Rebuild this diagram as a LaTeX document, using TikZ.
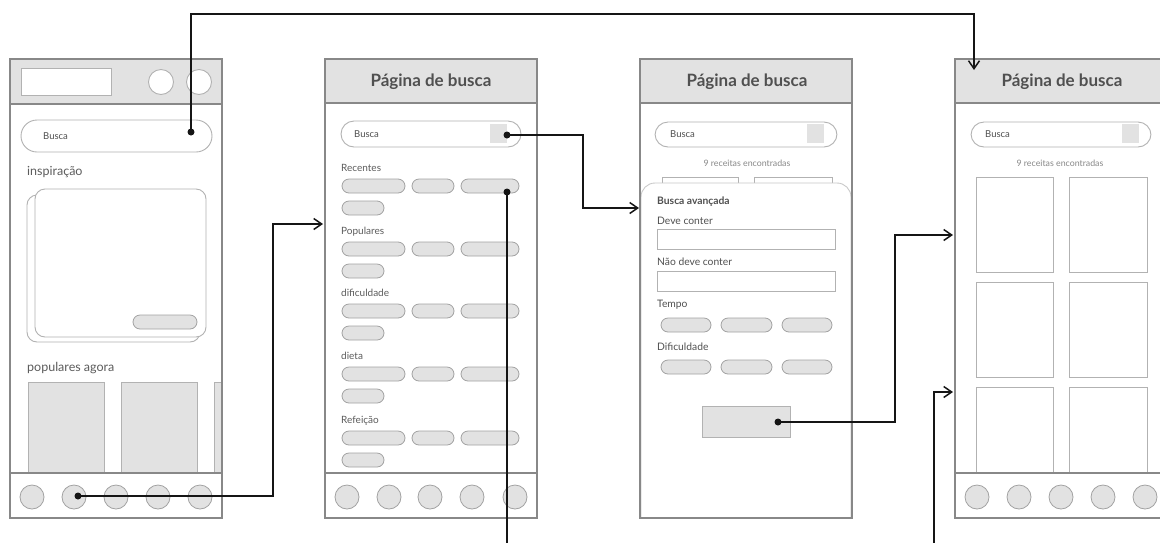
\documentclass[tikz,border=0pt]{standalone}
\usepackage{fontspec}
\setmainfont{Lato}
\usetikzlibrary{arrows.meta}

\definecolor{hdr}{HTML}{E2E2E2}
\definecolor{frame}{HTML}{888888}
\definecolor{soft}{HTML}{B2B2B2}
\definecolor{pilledge}{HTML}{A2A2A2}
\definecolor{ink}{HTML}{505050}
\definecolor{label}{HTML}{5C5C5C}
\definecolor{faint}{HTML}{888888}
\definecolor{wire}{HTML}{151515}

\tikzset{
  screen/.style={draw=frame, line width=1.3pt},
  headbar/.style={fill=hdr, draw=frame, line width=1.1pt},
  outline/.style={draw=soft, line width=0.9pt},
  pill/.style={fill=hdr, draw=pilledge, line width=0.8pt, rounded corners=7pt},
  disc/.style={circle, fill=hdr, draw=pilledge, line width=0.8pt, minimum size=24pt, inner sep=0pt},
  wire/.style={draw=wire, line width=1.7pt},
  arrowwire/.style={wire, -{Straight Barb[length=8pt,width=11pt,line width=1.5pt]}},
  dot/.style={circle, fill=wire, minimum size=7pt, inner sep=0pt},
  title/.style={font=\fontsize{17}{19}\selectfont\bfseries, text=ink, inner sep=0pt},
  lbl/.style={font=\fontsize{10}{12}\selectfont, text=label, anchor=mid west, inner sep=0pt},
  biglbl/.style={font=\fontsize{12.5}{14}\selectfont, text=label, anchor=mid west, inner sep=0pt},
  fieldtxt/.style={font=\fontsize{9.5}{11}\selectfont, text=ink, anchor=mid west, inner sep=0pt},
  counttxt/.style={font=\fontsize{8.8}{10}\selectfont, text=faint, inner sep=0pt},
  formlbl/.style={font=\fontsize{10.3}{12}\selectfont, text=ink, anchor=mid west, inner sep=0pt},
}

\begin{document}
\begin{tikzpicture}[x=1pt, y=-1pt]
\clip (0,0) rectangle (1160,542);
\fill[white] (0,0) rectangle (1160,542);

% ---------------- home screen ----------------
\draw[headbar] (10,59) rectangle (222,104);
\draw[outline, fill=white] (21,68) rectangle (111,95);
\draw[outline, fill=white] (161,82) circle (12.5);
\draw[outline, fill=white] (199,82) circle (12.5);
\draw[outline, fill=white, rounded corners=16pt] (21,120) rectangle (212,152);
\node[fieldtxt] (h-busca) at (43,137) {Busca};
\node[biglbl] (h-insp) at (27,173) {inspiração};
\draw[outline, fill=white, rounded corners=10pt] (27,195) rectangle (200,342);
\draw[outline, fill=white, rounded corners=10pt] (35,189) rectangle (206,337);
\draw[pill] (133,315) rectangle (197,329);
\node[biglbl] (h-pop) at (27,369) {populares agora};
\draw[outline, fill=hdr] (28,382) rectangle (104,473);
\draw[outline, fill=hdr] (121,382) rectangle (197,473);
\draw[outline, fill=hdr] (214,382) rectangle (221,473);
\draw[screen, fill=white] (10,473) rectangle (222,518);
\foreach \i/\x in {1/32,2/74,3/116,4/158,5/200}
  \node[disc] (h-nav\i) at (\x,497) {};
\draw[screen] (10,59) rectangle (222,518);

% ---------------- search screen ----------------
\draw[headbar] (325,59) rectangle (537,103);
\node[title] (s-title) at (431,82) {Página de busca};
\draw[outline, fill=white, rounded corners=13pt] (341,121) rectangle (521,147);
\node[fieldtxt] (s-busca) at (354,135) {Busca};
\fill[hdr] (490,124) rectangle (507,143);
\foreach \n/\t/\y in {rec/Recentes/169, pop/Populares/232, dif/dificuldade/294, die/dieta/357, ref/Refeição/421}{
  \node[lbl] (s-\n) at (341,\y) {\t};
  \draw[pill] (342,\y+10) rectangle (405,\y+24);
  \draw[pill] (412,\y+10) rectangle (454,\y+24);
  \draw[pill] (461,\y+10) rectangle (519,\y+24);
  \draw[pill] (342,\y+32) rectangle (384,\y+46);
}
\draw[screen, fill=white] (325,473) rectangle (537,518);
\foreach \i/\x in {1/347,2/389,3/430,4/472,5/515}
  \node[disc] (s-nav\i) at (\x,497) {};
\draw[screen] (325,59) rectangle (537,518);

% ---------------- advanced search screen ----------------
\draw[headbar] (640,59) rectangle (852,103);
\node[title] (a-title) at (747,82) {Página de busca};
\draw[outline, fill=white, rounded corners=13pt] (655,122) rectangle (837,147);
\node[fieldtxt] (a-busca) at (670,135) {Busca};
\fill[hdr] (807,124) rectangle (824,143);
\node[counttxt] (a-count) at (747,163) {9 receitas encontradas};
\draw[outline] (662,177) rectangle (738,200);
\draw[outline] (754,177) rectangle (832,200);
\draw[draw=soft!70, line width=0.9pt, fill=white, rounded corners=14pt]
  (641,518) -- (641,183) -- (851,183) -- (851,518);
\node[formlbl, font=\fontsize{10.3}{12}\selectfont\bfseries] (a-adv) at (657,202) {Busca avançada};
\node[formlbl] (a-deve) at (657,222) {Deve conter};
\draw[outline] (657,229) rectangle (835,249);
\node[formlbl] (a-nao) at (657,263) {Não deve conter};
\draw[outline] (657,271) rectangle (835,291);
\node[formlbl] (a-tempo) at (657,305) {Tempo};
\node[formlbl] (a-dif) at (657,348) {Dificuldade};
\foreach \y in {318,360}{
  \draw[pill] (661,\y) rectangle (711,\y+14);
  \draw[pill] (721,\y) rectangle (772,\y+14);
  \draw[pill] (782,\y) rectangle (832,\y+14);
}
\draw[outline, fill=hdr] (702,406) rectangle (790,437);
\draw[screen] (640,59) rectangle (852,518);

% ---------------- results screen ----------------
\draw[headbar] (955,59) rectangle (1175,103);
\node[title] (r-title) at (1062,82) {Página de busca};
\draw[outline, fill=white, rounded corners=13pt] (971,122) rectangle (1151,147);
\node[fieldtxt] (r-busca) at (985,135) {Busca};
\fill[hdr] (1122,124) rectangle (1139,143);
\node[counttxt] (r-count) at (1060,163) {9 receitas encontradas};
\foreach \a/\b in {177/272, 282/377, 387/473}{
  \draw[outline] (976,\a) rectangle (1053,\b);
  \draw[outline] (1069,\a) rectangle (1147,\b);
}
\draw[screen, fill=white] (955,473) rectangle (1175,518);
\foreach \i/\x in {1/977,2/1019,3/1061,4/1103,5/1145}
  \node[disc] (r-nav\i) at (\x,497) {};
\draw[screen] (955,59) rectangle (1175,518);

% ---------------- flow connectors ----------------
\node[dot] (d-home-search) at (191,132) {};
\node[dot] (d-home-nav) at (78,496) {};
\node[dot] (d-search-btn) at (507,135) {};
\node[dot] (d-search-tag) at (507,192) {};
\node[dot] (d-adv-btn) at (778,422) {};

\coordinate (k1) at (191,14);
\coordinate (t1) at (974,70);
\coordinate (k2) at (273,496);
\coordinate (t2) at (323,224);
\coordinate (k3) at (583,135);
\coordinate (t3) at (639,208);
\coordinate (e4) at (507,545);
\coordinate (k5) at (895,422);
\coordinate (t5) at (953,235);
\coordinate (s6) at (934,545);
\coordinate (t6) at (953,392);

\draw[arrowwire] (d-home-search.center) -- (k1) -| (t1);
\draw[arrowwire] (d-home-nav.center) -- (k2) |- (t2);
\draw[arrowwire] (d-search-btn.center) -- (k3) |- (t3);
\draw[wire] (d-search-tag.center) -- (e4);
\draw[arrowwire] (d-adv-btn.center) -- (k5) |- (t5);
\draw[arrowwire] (s6) |- (t6);
\end{tikzpicture}
\end{document}
